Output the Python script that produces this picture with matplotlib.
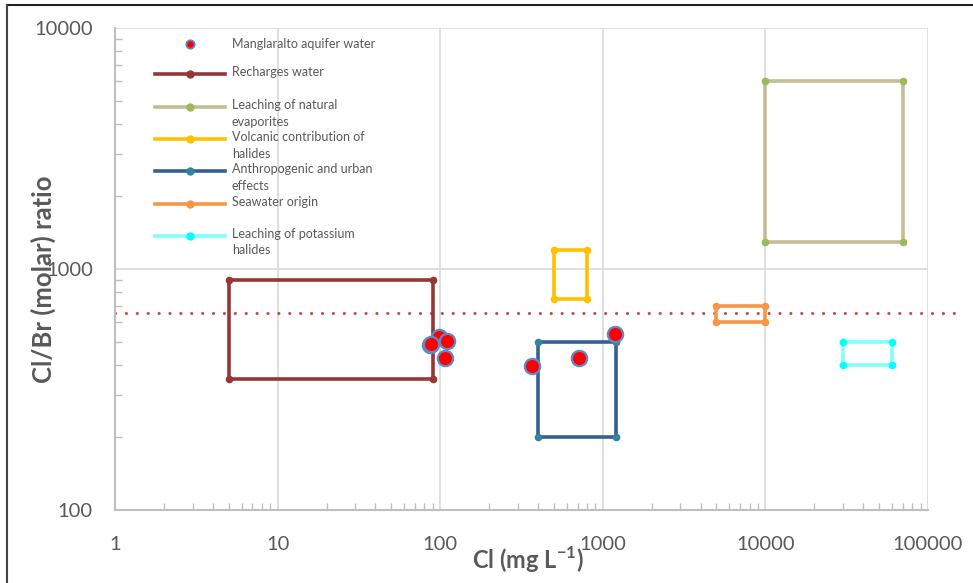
import numpy as np
import matplotlib
matplotlib.use("Agg")
import matplotlib.pyplot as plt
from matplotlib.lines import Line2D
from matplotlib.ticker import LogLocator, FixedLocator, NullFormatter

plt.rcParams['font.family'] = ['Lato', 'DejaVu Sans']
plt.rcParams['mathtext.fontset'] = 'custom'
plt.rcParams['mathtext.rm'] = 'Lato'
plt.rcParams['mathtext.bf'] = 'Lato:bold'

# --- data -------------------------------------------------------------
# Manglaralto aquifer water samples: Cl (mg/L) and Cl/Br molar ratio
sample_cl = [86, 99, 110, 107, 88, 367, 713, 1195]
sample_ratio = [484, 522, 502, 428, 488, 396, 428, 537]

# source fields as boxes: (Cl min, Cl max, ratio min, ratio max)
box_names = ["Recharges water", "Leaching of natural\nevaporites",
             "Volcanic contribution of\nhalides", "Anthropogenic and urban\neffects",
             "Seawater origin", "Leaching of potassium\nhalides"]
box_cl_min = [5, 10000, 500, 400, 5000, 30000]
box_cl_max = [90, 70000, 800, 1200, 10000, 60000]
box_ratio_min = [350, 1300, 750, 200, 600, 400]
box_ratio_max = [900, 6000, 1200, 500, 700, 500]
box_colors = ["#953735", "#C4BD97", "#FFC000", "#376092", "#F79646", "#80FFFF"]
box_marker_colors = ["#953735", "#9BBB59", "#FFC000", "#31859C", "#F79646", "#00FFFF"]

# seawater Cl/Br reference line
seawater_x = [1, 150000]
seawater_y = [655, 655]

# --- figure -----------------------------------------------------------
fig = plt.figure(figsize=(9.73, 5.83), dpi=100)
ax = fig.add_axes([115 / 973, 1 - 510 / 583, 813 / 973, 482 / 583])
ax.set_xscale('log')
ax.set_yscale('log')
ax.set_xlim(1, 100000)
ax.set_ylim(100, 10000)

ax.grid(True, which='major', color='#D9D9D9', linewidth=1.2)
ax.set_axisbelow(True)
for side in ['top', 'right']:
    ax.spines[side].set_visible(False)
for side in ['left', 'bottom']:
    ax.spines[side].set_color('#BFBFBF')
    ax.spines[side].set_linewidth(1.5)

ax.xaxis.set_major_locator(FixedLocator([1, 10, 100, 1000, 10000, 100000]))
ax.yaxis.set_major_locator(FixedLocator([100, 1000, 10000]))
ax.set_xticklabels(["1", "10", "100", "1000", "10000", "100000"])
ax.set_yticklabels(["100", "1000", "10000"])
ax.xaxis.set_minor_locator(LogLocator(base=10, subs=np.arange(2, 10)))
ax.yaxis.set_minor_locator(LogLocator(base=10, subs=np.arange(2, 10)))
ax.xaxis.set_minor_formatter(NullFormatter())
ax.yaxis.set_minor_formatter(NullFormatter())
ax.tick_params(which='major', length=0, labelsize=14.5, labelcolor='#595959')
ax.tick_params(axis='x', which='major', pad=19)
ax.tick_params(axis='y', which='major', pad=16)
ax.tick_params(which='minor', direction='in', length=5, width=1, color='#BFBFBF')

# seawater line
ax.plot(seawater_x, seawater_y, color='#C0504D', linewidth=2.3,
        linestyle=(0, (0.01, 3.4)), dash_capstyle='round', clip_on=False, zorder=2)

# boxes
for i in range(len(box_names)):
    xs = [box_cl_min[i], box_cl_max[i], box_cl_max[i], box_cl_min[i], box_cl_min[i]]
    ys = [box_ratio_max[i], box_ratio_max[i], box_ratio_min[i], box_ratio_min[i], box_ratio_max[i]]
    ax.plot(xs, ys, color=box_colors[i], linewidth=2.6, zorder=3,
            solid_joinstyle='miter')
    ax.plot(xs[:4], ys[:4], linestyle='none', marker='o', markersize=4.5,
            color=box_marker_colors[i], zorder=4)

# samples
ax.plot(sample_cl, sample_ratio, linestyle='none', marker='o', markersize=11,
        markerfacecolor='#FF0000', markeredgecolor='#5B8BC9', markeredgewidth=1.6,
        zorder=5)

# axis titles
ax.set_xlabel("Cl (mg L$^{\\mathbf{-1}}$)", fontsize=17, fontweight='bold', color='#595959')
ax.set_ylabel("Cl/Br (molar) ratio", fontsize=18.5, fontweight='bold', color='#595959')
ax.xaxis.set_label_coords(0.508, -0.072)
ax.yaxis.set_label_coords(-0.072, 0.479)

# legend drawn in figure pixels (Excel-like spacing)
W, H = 973, 583
def fx(px):
    return px / W
def fy(py):
    return 1 - py / H

entry_y = [44, 74, 107, 139, 171, 204, 236]
fig.add_artist(Line2D([fx(190)], [fy(entry_y[0])], marker='o', markersize=6,
                      markerfacecolor='#FF0000', markeredgecolor='#5B8BC9',
                      markeredgewidth=1.3, linestyle='none'))
fig.text(fx(232), fy(entry_y[0]), "Manglaralto aquifer water", fontsize=9,
         color='#595959', va='center', ha='left')
for i, name in enumerate(box_names):
    y = entry_y[i + 1]
    fig.add_artist(Line2D([fx(155), fx(225)], [fy(y), fy(y)], color=box_colors[i],
                          linewidth=2.6))
    fig.add_artist(Line2D([fx(190)], [fy(y)], marker='o', markersize=5,
                          color=box_marker_colors[i], linestyle='none'))
    fig.text(fx(232), fy(y - 8), name, fontsize=9, color='#595959',
             va='top', ha='left', linespacing=1.45)

# frame edges visible in the reference crop
fig.add_artist(Line2D([fx(7), fx(973)], [fy(5), fy(5)], color='#222222', linewidth=1.5))
fig.add_artist(Line2D([fx(7), fx(7)], [fy(5), fy(583)], color='#444444', linewidth=1.5))

fig.savefig("out.png", dpi=100)
